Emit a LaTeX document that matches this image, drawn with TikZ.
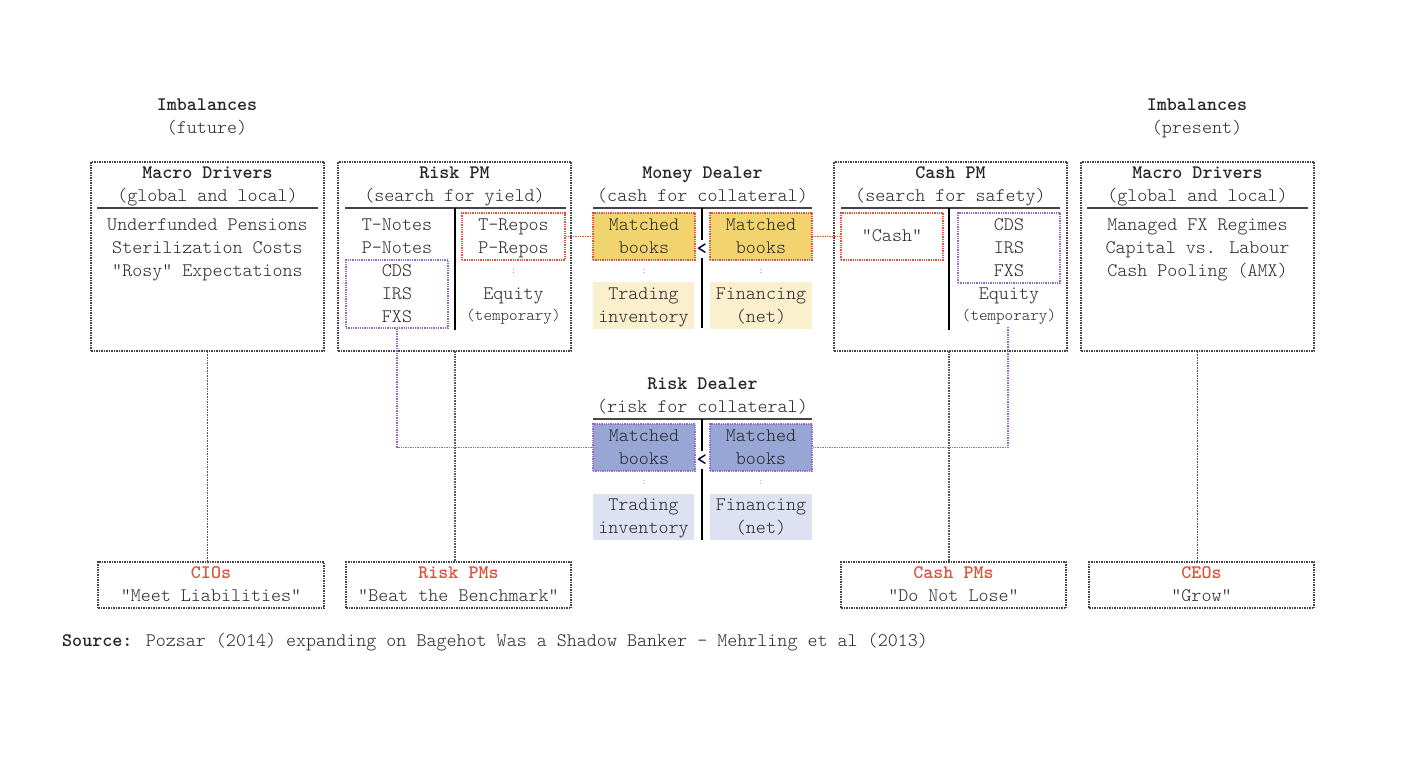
\documentclass[tikz,border=0pt]{standalone}
\usepackage{fontspec}
\setmainfont{lmmonolt10-regular.otf}[BoldFont=lmmonolt10-bold.otf]
\definecolor{txtc}{HTML}{262626}
\definecolor{redc}{HTML}{E0503C}
\definecolor{purc}{HTML}{9468C8}
\definecolor{goldc}{HTML}{F2D36E}
\definecolor{goldl}{HTML}{FAF0CD}
\definecolor{bluec}{HTML}{98A6D6}
\definecolor{bluel}{HTML}{DDE1F2}
\definecolor{boxc}{HTML}{444444}
\newcommand{\qq}{\symbol{34}}
\begin{document}
\begin{tikzpicture}[x=1pt,y=-1pt,
  txt/.style={inner sep=0pt,text=txtc,font=\fontsize{19.1}{20}\selectfont,text height=11pt,text depth=3pt,yshift=-1.5pt},
  bld/.style={txt,font=\fontsize{19.1}{20}\selectfont\bfseries},
  redt/.style={bld,text=redc},
  small/.style={txt,font=\fontsize{16.3}{17}\selectfont},
  dots/.style={inner sep=0pt,text=gray,font=\fontsize{10}{10}\selectfont},
  frame/.style={draw=boxc,densely dotted,line width=1.5pt,inner sep=0pt},
  redbox/.style={draw=redc,densely dotted,line width=1.3pt,inner sep=0pt},
  purbox/.style={draw=purc,densely dotted,line width=1.3pt,inner sep=0pt},
  hline/.style={draw=boxc,line width=1.8pt},
  vline/.style={draw=black,line width=2.4pt},
  conn/.style={draw=gray!70!black,densely dotted,line width=1.6pt},
  redconn/.style={draw=redc,densely dotted,line width=1.4pt},
  purconn/.style={draw=purc,densely dotted,line width=1.4pt},
]
\useasboundingbox (0,0) rectangle (1417,762);

% ---------- headers Imbalances ----------
\node[bld] (imbf) at (207,105) {Imbalances};
\node[txt] (imbfs) at (207,128) {(future)};
\node[bld] (imbp) at (1197,105) {Imbalances};
\node[txt] (imbps) at (1197,128) {(present)};

% ---------- Macro Drivers left ----------
\node[frame,minimum width=233pt,minimum height=189pt] (md1) at (207.5,256.5) {};
\node[bld] (md1t) at (207.5,173) {Macro Drivers};
\node[txt] (md1s) at (207.5,196) {(global and local)};
\draw[hline] (97,208) -- (318,208);
\node[txt] (md1a) at (207.5,225) {Underfunded Pensions};
\node[txt] (md1b) at (207.5,248) {Sterilization Costs};
\node[txt] (md1c) at (207.5,271) {\qq Rosy\qq\ Expectations};

% ---------- Macro Drivers right ----------
\node[frame,minimum width=233pt,minimum height=189pt] (md2) at (1197.5,256.5) {};
\node[bld] (md2t) at (1197.5,173) {Macro Drivers};
\node[txt] (md2s) at (1197.5,196) {(global and local)};
\draw[hline] (1087,208) -- (1308,208);
\node[txt] (md2a) at (1197.5,225) {Managed FX Regimes};
\node[txt] (md2b) at (1197.5,248) {Capital vs. Labour};
\node[txt] (md2c) at (1197.5,271) {Cash Pooling (AMX)};

% ---------- Risk PM ----------
\node[frame,minimum width=233pt,minimum height=189pt] (rpm) at (454.5,256.5) {};
\node[bld] (rpmt) at (454.5,173) {Risk PM};
\node[txt] (rpms) at (454.5,196) {(search for yield)};
\draw[hline] (345,208) -- (566,208);
\draw[vline] (455,208) -- (455,330);
\node[txt] (tn) at (397,225) {T-Notes};
\node[txt] (pn) at (397,248) {P-Notes};
\node[purbox,minimum width=102pt,minimum height=68pt] (rpmcds) at (397,294) {};
\node[txt] at (397,271) {CDS};
\node[txt] at (397,294) {IRS};
\node[txt] at (397,317) {FXS};
\node[redbox,minimum width=103pt,minimum height=47pt] (rpmrepo) at (513.5,236.5) {};
\node[txt] at (513.5,225) {T-Repos};
\node[txt] at (513.5,248) {P-Repos};
\node[dots] at (513.5,271) {:};
\node[txt] (rpmeq) at (513.5,294) {Equity};
\node[small] (rpmtmp) at (513.5,315) {(temporary)};

% ---------- Cash PM ----------
\node[frame,minimum width=233pt,minimum height=189pt] (cpm) at (950.5,256.5) {};
\node[bld] (cpmt) at (950.5,173) {Cash PM};
\node[txt] (cpms) at (950.5,196) {(search for safety)};
\draw[hline] (841,208) -- (1060,208);
\draw[vline] (949,208) -- (949,330);
\node[redbox,minimum width=102pt,minimum height=47pt] (cash) at (892,236.5) {};
\node[txt] at (892,236) {\qq Cash\qq};
\node[purbox,minimum width=102pt,minimum height=70pt] (cpmcds) at (1009,248) {};
\node[txt] at (1009,225) {CDS};
\node[txt] at (1009,248) {IRS};
\node[txt] at (1009,271) {FXS};
\node[txt] (cpmeq) at (1009,294) {Equity};
\node[small] (cpmtmp) at (1009,315) {(temporary)};
\coordinate (cpmend) at (1008,327);

% ---------- Money Dealer ----------
\node[bld] (mdt) at (702.5,173) {Money Dealer};
\node[txt] (mds) at (702.5,196) {(cash for collateral)};
\draw[hline] (593,208) -- (812,208);
\draw[vline] (702,208) -- (702,240);
\draw[vline] (702,258) -- (702,328);
\node[bld,text=black!80!blue] (mdlt) at (702,249) {<};
\node[redbox,fill=goldc,minimum width=102pt,minimum height=47pt] (mdl) at (644,236.5) {};
\node[txt] at (644,225) {Matched};
\node[txt] at (644,248) {books};
\node[redbox,fill=goldc,minimum width=102pt,minimum height=47pt] (mdr) at (761,236.5) {};
\node[txt] at (761,225) {Matched};
\node[txt] at (761,248) {books};
\node[dots] at (644,271) {:};
\node[dots] at (761,271) {:};
\node[fill=goldl,inner sep=0pt,minimum width=101pt,minimum height=46pt] (mdti) at (643.5,305.5) {};
\node[txt] at (643.5,294) {Trading};
\node[txt] at (643.5,317) {inventory};
\node[fill=goldl,inner sep=0pt,minimum width=102pt,minimum height=46pt] (mdfn) at (761,305.5) {};
\node[txt] at (761,294) {Financing};
\node[txt] at (761,317) {(net)};

% ---------- Risk Dealer ----------
\node[bld] (rdt) at (702.5,384) {Risk Dealer};
\node[txt] (rds) at (702.5,407) {(risk for collateral)};
\draw[hline] (593,419) -- (812,419);
\draw[vline] (702,419) -- (702,451);
\draw[vline] (702,469) -- (702,540);
\node[bld,text=black!80!blue] (rdlt) at (702,460) {<};
\node[purbox,fill=bluec,minimum width=102pt,minimum height=47pt] (rdl) at (644,447.5) {};
\node[txt] at (644,436) {Matched};
\node[txt] at (644,459) {books};
\node[purbox,fill=bluec,minimum width=102pt,minimum height=47pt] (rdr) at (761,447.5) {};
\node[txt] at (761,436) {Matched};
\node[txt] at (761,459) {books};
\node[dots] at (644,482) {:};
\node[dots] at (761,482) {:};
\node[fill=bluel,inner sep=0pt,minimum width=101pt,minimum height=46pt] (rdti) at (643.5,516.5) {};
\node[txt] at (643.5,505) {Trading};
\node[txt] at (643.5,528) {inventory};
\node[fill=bluel,inner sep=0pt,minimum width=102pt,minimum height=46pt] (rdfn) at (761,516.5) {};
\node[txt] at (761,505) {Financing};
\node[txt] at (761,528) {(net)};

% ---------- bottom boxes ----------
\node[frame,minimum width=226pt,minimum height=46pt] (cio) at (211,585) {};
\node[redt] at (211,573) {CIOs};
\node[txt] at (211,596) {\qq Meet Liabilities\qq};
\node[frame,minimum width=225pt,minimum height=46pt] (rpms2) at (458.5,585) {};
\node[redt] at (458.5,573) {Risk PMs};
\node[txt] at (458.5,596) {\qq Beat the Benchmark\qq};
\node[frame,minimum width=225pt,minimum height=46pt] (cpms2) at (953.5,585) {};
\node[redt] at (953.5,573) {Cash PMs};
\node[txt] at (953.5,596) {\qq Do Not Lose\qq};
\node[frame,minimum width=225pt,minimum height=46pt] (ceo) at (1201.5,585) {};
\node[redt] at (1201.5,573) {CEOs};
\node[txt] at (1201.5,596) {\qq Grow\qq};

% ---------- source ----------
\node[txt,anchor=west] (src) at (62,641) {\textbf{Source:} Pozsar (2014) expanding on Bagehot Was a Shadow Banker - Mehrling et al (2013)};

% ---------- connectors ----------
\coordinate (rpmv) at (455,351);
\coordinate (cpmv) at (949,351);
\draw[conn] (md1.south) -- (md1.south |- cio.north);
\draw[conn] (rpmv) -- (rpmv |- rpms2.north);
\draw[conn] (cpmv) -- (cpmv |- cpms2.north);
\draw[conn] (md2.south) -- (md2.south |- ceo.north);
\draw[redconn] (rpmrepo.east) -- (mdl.west);
\draw[redconn] (mdr.east) -- (cash.west);
\draw[purconn] (rpmcds.south) |- (rdl.west);
\draw[purconn] (rdr.east) -| (cpmend);
\end{tikzpicture}
\end{document}
